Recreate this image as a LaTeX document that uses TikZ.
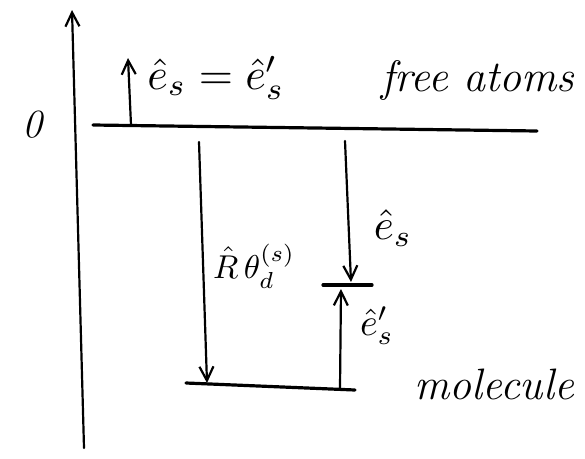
\documentclass[tikz,border=0pt]{standalone}
\usetikzlibrary{arrows.meta}
\begin{document}
\begin{tikzpicture}[x=1pt,y=-1pt,
  pen/.style={line width=2.2pt, line cap=round},
  level/.style={line width=3.2pt, line cap=round},
  arr/.style={pen, -{Straight Barb[length=14pt,width=14pt,line width=2.2pt]}},
  lbl/.style={inner sep=0pt},
  word/.style={inner sep=0pt, font=\fontsize{44}{50}\selectfont\itshape}]
\useasboundingbox (0,0) rectangle (585,458);
% axis
\coordinate (axb) at (84,448);
\coordinate (axt) at (72,10);
\draw[arr] (axb) -- (axt);
\node[inner sep=0pt, font=\fontsize{40}{44}\selectfont\itshape] (zero) at (32,125) {0};
% free atoms level
\coordinate (fa1) at (93,125);
\coordinate (fa2) at (537,131);
\draw[level] (fa1) -- (fa2);
% small up arrow
\coordinate (ua1) at (131,125);
\coordinate (ua2) at (128,58);
\draw[arr] (ua1) -- (ua2);
\node[lbl] (eq) at (216,78) {\scalebox{4.4}{$\hat e_s = \hat e'_s$}};
\node[word] (free) at (478,80) {free atoms};
% molecule level
\coordinate (m1) at (186,383);
\coordinate (m2) at (355,390);
\draw[level] (m1) -- (m2);
\node[word] (mol) at (494,384) {molecule};
% intermediate level
\coordinate (i1) at (323,285);
\coordinate (i2) at (372,285);
\draw[level] (i1) -- (i2);
% left long arrow
\coordinate (la1) at (199,142);
\coordinate (la2) at (207,383);
\draw[arr] (la1) -- (la2);
\node[lbl] (R) at (254,266) {\scalebox{3.3}{$\hat R\,\theta_d^{(s)}$}};
% right down arrow
\coordinate (ra1) at (345,141);
\coordinate (ra2) at (351,282);
\draw[arr] (ra1) -- (ra2);
\node[lbl] (es) at (393,228) {\scalebox{4.3}{$\hat e_s$}};
% up arrow
\coordinate (up1) at (340,388);
\coordinate (up2) at (341,289);
\draw[arr] (up1) -- (up2);
\node[lbl] (esp) at (377,326) {\scalebox{3.8}{$\hat e'_s$}};
\end{tikzpicture}
\end{document}
